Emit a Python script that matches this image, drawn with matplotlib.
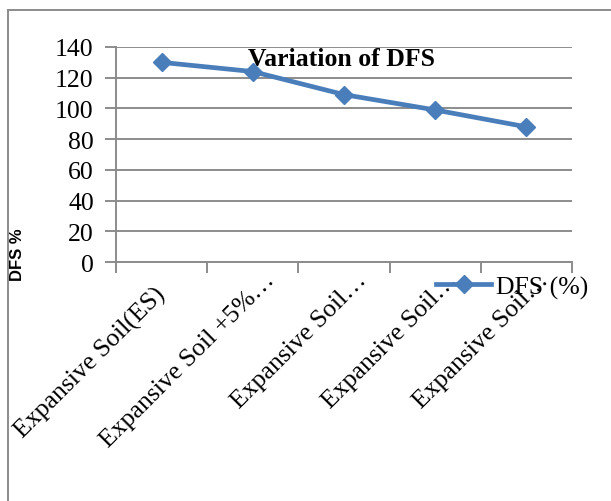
import numpy as np
import matplotlib.pyplot as plt
import matplotlib.transforms as mtransforms
from matplotlib.lines import Line2D

categories = ['Expansive Soil(ES)', 'Expansive Soil +5%…', 'Expansive Soil…',
              'Expansive Soil…', 'Expansive Soil…']
dfs_values = [130, 124, 109, 99, 88]
y_ticks = [0, 20, 40, 60, 80, 100, 120, 140]

line_color = '#4A7EBB'
grid_color = '#8c8c8c'
serif = ['Liberation Serif', 'DejaVu Serif']

fig = plt.figure(figsize=(6.11, 5.02), dpi=100)
ax = fig.add_axes([116 / 611, 1 - 263 / 502, (572 - 116) / 611, (263 - 48) / 502])

x = np.arange(len(categories))
ax.plot(x, dfs_values, color=line_color, linewidth=3.4, marker='D',
        markersize=9, markerfacecolor=line_color, markeredgecolor=line_color,
        zorder=3)

ax.set_xlim(-0.5, len(categories) - 0.5)
ax.set_ylim(0, 140)

# horizontal gridlines, extending through the tick marks
ax.set_yticks(y_ticks)
ax.set_yticklabels([str(v) for v in y_ticks], fontsize=18.5, family=serif)
for v in y_ticks:
    ax.axhline(v, color=grid_color, linewidth=1.4, zorder=1)
ax.tick_params(axis='y', length=8, width=1.4, color=grid_color, pad=8)

# category boundaries get the tick marks, labels sit on the category centres
ax.set_xticks(np.arange(-0.5, len(categories), 1.0), minor=True)
ax.set_xticks(x)
ax.set_xticklabels(categories, rotation=45, ha='right', va='baseline',
                   fontsize=18.5, family=serif)
ax.tick_params(axis='x', which='major', length=0, pad=10.5)
ax.tick_params(axis='x', which='minor', length=8, width=1.4, color=grid_color)

# full label ends a little lower than the truncated ones
label_shift_px = [(5, -18), (23, -4), (23, -4), (23, -4), (23, -4)]
for lbl, (dx, dy) in zip(ax.get_xticklabels(), label_shift_px):
    shift = mtransforms.ScaledTranslation(dx / 100, dy / 100, fig.dpi_scale_trans)
    lbl.set_rotation_mode('anchor')
    lbl.set_transform(lbl.get_transform() + shift)

for side in ['top', 'right']:
    ax.spines[side].set_visible(False)
ax.spines['left'].set_color(grid_color)
ax.spines['left'].set_linewidth(1.4)
ax.spines['bottom'].set_color(grid_color)
ax.spines['bottom'].set_linewidth(1.4)

# title sits under the data line
ax.text(342 / 611, 1 - 66 / 502, 'Variation of DFS', transform=fig.transFigure,
        ha='center', va='baseline', fontsize=18.5, fontweight='bold',
        family=serif, zorder=2)
fig.text(18 / 611, 1 - 255 / 502, 'DFS %', rotation=90, ha='center',
         va='center', fontsize=12, fontweight='bold',
         family=['Liberation Sans', 'DejaVu Sans'])

handle = Line2D([], [], color=line_color, linewidth=3.4, marker='D',
                markersize=9)
fig.legend([handle], ['DFS (%)'], loc='center left',
           bbox_to_anchor=(436 / 611, 1 - 288 / 502), frameon=False,
           handlelength=2.15, handletextpad=0.2, borderpad=0, borderaxespad=0,
           prop={'family': serif, 'size': 18.5})

# outer chart frame: top and left edges
fig.add_artist(Line2D([8 / 611, 1], [1 - 11 / 502, 1 - 11 / 502],
                      transform=fig.transFigure, color=grid_color, linewidth=1.4))
fig.add_artist(Line2D([8 / 611, 8 / 611], [0, 1 - 11 / 502],
                      transform=fig.transFigure, color=grid_color, linewidth=1.4))

fig.savefig('out.png', dpi=100)
